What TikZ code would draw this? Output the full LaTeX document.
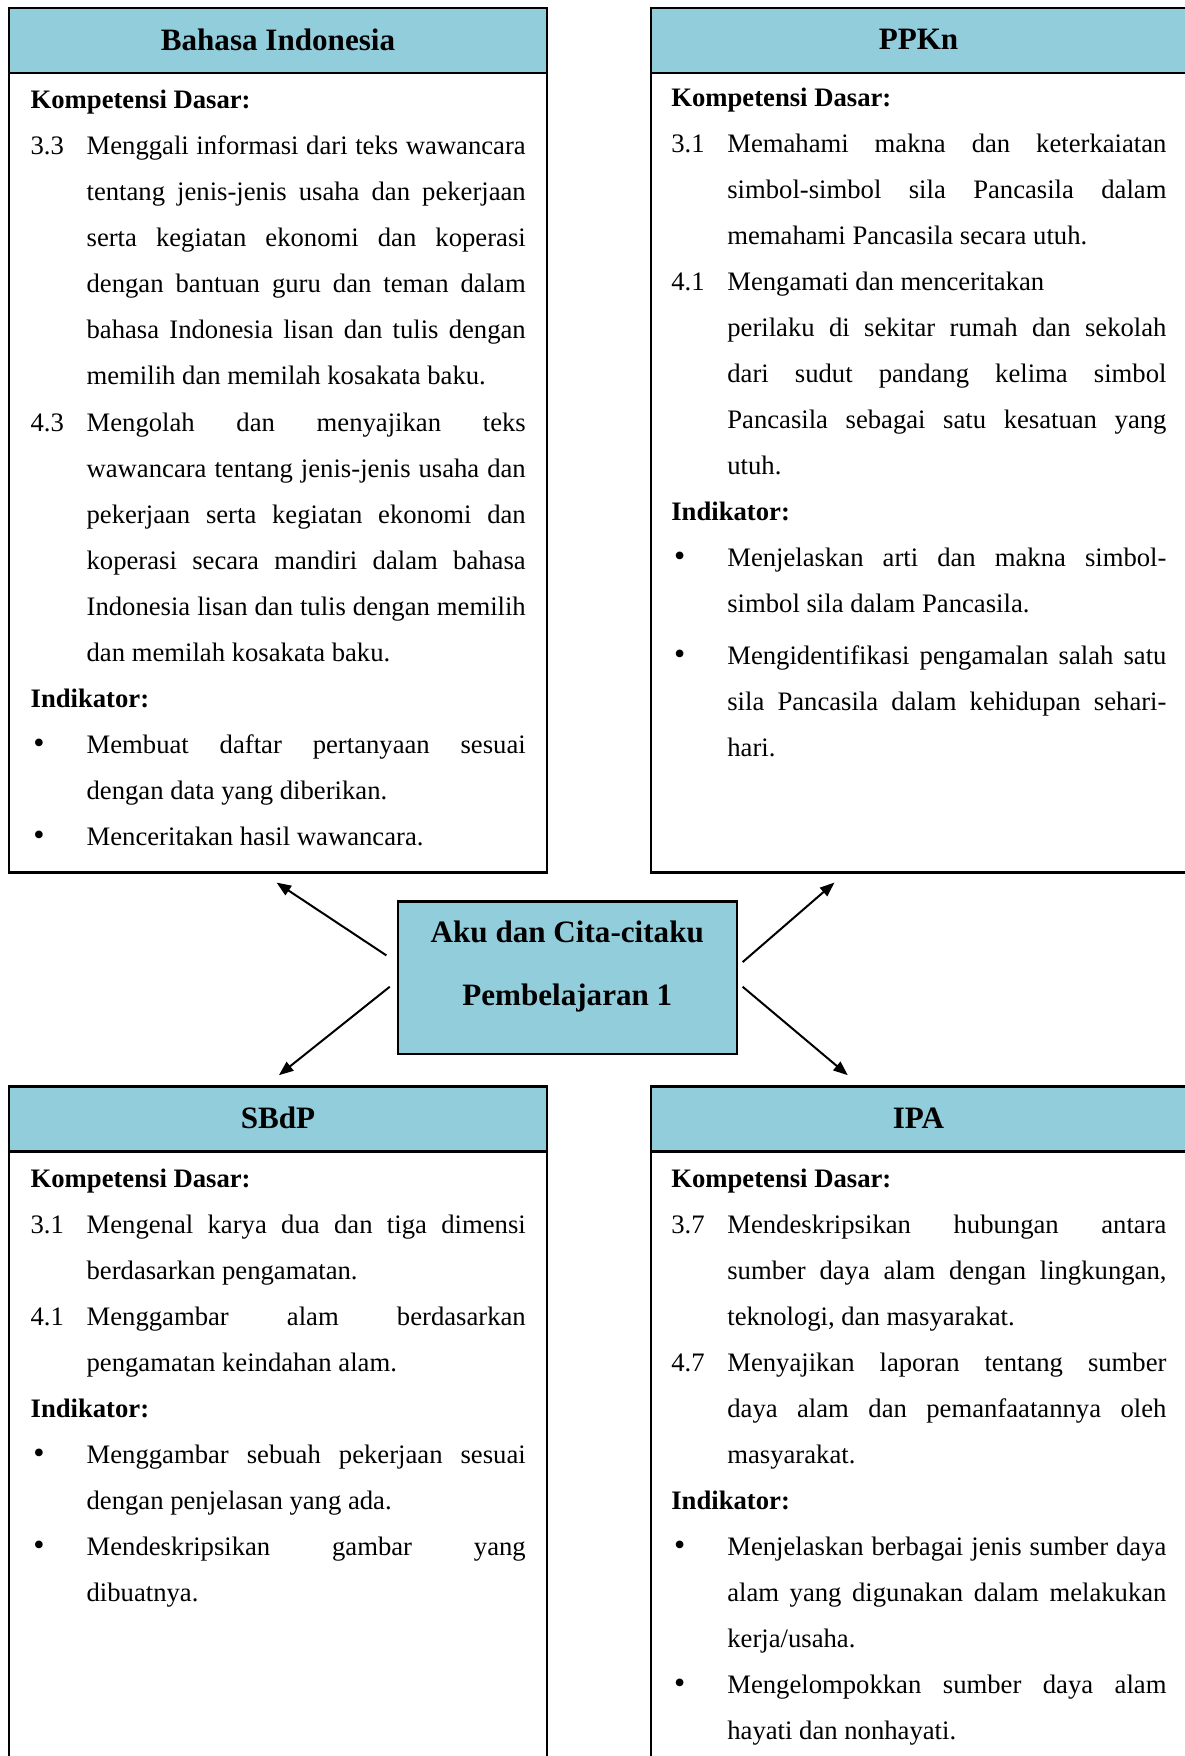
\documentclass[tikz,border=0pt]{standalone}
\usepackage{fontspec}
\setmainfont{Liberation Serif}
\usetikzlibrary{arrows.meta}
\definecolor{hdrblue}{HTML}{92CDDC}
\newlength\labw \setlength\labw{25.2pt}
\newlength\txw \setlength\txw{197.6pt}
\newcommand\Jl[2]{\hbox{\makebox[\labw][l]{#1}\makebox[\txw][s]{#2}}}
\newcommand\Ll[2]{\hbox{\makebox[\labw][l]{#1}\makebox[\txw][l]{#2}}}
\newcommand\Hd[1]{\hbox{\textbf{#1}}}
\newcommand\bul{\hspace{1.2pt}\raisebox{-0.2pt}{\scalebox{1.2}{\textbullet}}}
\newcommand\boxtext[1]{\parbox[t]{\dimexpr\labw+\txw\relax}{\fontsize{12}{20.7}\selectfont\baselineskip=20.7pt\lineskiplimit=-20pt #1}}
\tikzset{
  x=0.45pt, y=-0.45pt,
  frame/.style={draw=black, line width=1pt},
  hdr/.style={fill=hdrblue},
  title/.style={font=\fontsize{14}{16}\selectfont\bfseries, inner sep=0pt},
  body/.style={anchor=base west, inner sep=0pt},
  arr/.style={draw=black, line width=0.9pt, -{Triangle[length=6.5pt,width=5pt]}},
}
\begin{document}
\begin{tikzpicture}
\useasboundingbox (0,0) rectangle (1185,1756);
\clip (0,0) rectangle (1185,1756);
\fill[white] (0,0) rectangle (1185,1756);

% ---- boxes ----
\fill[hdr] (9,8) rectangle (547,72.8);
\draw[frame] (9,8) rectangle (547,872.5);
\draw[frame] (9,72.8) -- (547,72.8);

\fill[hdr] (650.7,8) rectangle (1187,72.8);
\draw[frame] (650.7,8) rectangle (1187,872.5);
\draw[frame] (650.7,72.8) -- (1187,72.8);

\fill[hdr] (9,1086.5) rectangle (547,1151.4);
\draw[frame] (9,1086.5) rectangle (547,1790);
\draw[frame] (9,1151.4) -- (547,1151.4);

\fill[hdr] (650.7,1086.5) rectangle (1187,1151.4);
\draw[frame] (650.7,1086.5) rectangle (1187,1790);
\draw[frame] (650.7,1151.4) -- (1187,1151.4);

% ---- titles ----
\node[title] (tBI) at (278,39.5) {Bahasa Indonesia};
\node[title] (tPP) at (918.5,39.5) {PPKn};
\node[title] (tSB) at (278,1118) {SBdP};
\node[title] (tIP) at (918.5,1118) {IPA};

% ---- centre ----
\node[frame, hdr, minimum width=152.7pt, minimum height=68.6pt, inner sep=0pt] (topic) at (567.3,977.8) {};
\node[title, anchor=base] (topic1) at (567.3,942) {Aku dan Cita-citaku};
\node[title, anchor=base] (topic2) at (567.3,1005.5) {Pembelajaran 1};

% ---- arrows ----
\coordinate (a1s) at (386.4,955.4);  \coordinate (a1e) at (276.6,882.6);
\coordinate (a2s) at (389.8,986.7);  \coordinate (a2e) at (278.9,1075.2);
\coordinate (a3s) at (742.6,962.1);  \coordinate (a3e) at (834.4,882.6);
\coordinate (a4s) at (742.6,986.7);  \coordinate (a4e) at (847.8,1075.2);
\draw[arr] (a1s) -- (a1e);
\draw[arr] (a2s) -- (a2e);
\draw[arr] (a3s) -- (a3e);
\draw[arr] (a4s) -- (a4e);

% ---- Bahasa Indonesia ----
\node[body] (bBI) at (30.2,109) {\boxtext{%
\Hd{Kompetensi Dasar:}
\Jl{3.3}{Menggali informasi dari teks wawancara}
\Jl{}{tentang jenis-jenis usaha dan pekerjaan}
\Jl{}{serta kegiatan ekonomi dan koperasi}
\Jl{}{dengan bantuan guru dan teman dalam}
\Jl{}{bahasa Indonesia lisan dan tulis dengan}
\Ll{}{memilih dan memilah kosakata baku.}
\Jl{4.3}{Mengolah dan menyajikan teks}
\Jl{}{wawancara tentang jenis-jenis usaha dan}
\Jl{}{pekerjaan serta kegiatan ekonomi dan}
\Jl{}{koperasi secara mandiri dalam bahasa}
\Jl{}{Indonesia lisan dan tulis dengan memilih}
\Ll{}{dan memilah kosakata baku.}
\Hd{Indikator:}
\Jl{\bul}{Membuat daftar pertanyaan sesuai}
\Ll{}{dengan data yang diberikan.}
\Ll{\bul}{Menceritakan hasil wawancara.}
}};

% ---- PPKn ----
\node[body] (bPP) at (670.9,106.5) {\boxtext{%
\Hd{Kompetensi Dasar:}
\Jl{3.1}{Memahami makna dan keterkaiatan}
\Jl{}{simbol-simbol sila Pancasila dalam}
\Ll{}{memahami Pancasila secara utuh.}
\Ll{4.1}{Mengamati dan menceritakan}
\Jl{}{perilaku di sekitar rumah dan sekolah}
\Jl{}{dari sudut pandang kelima simbol}
\Jl{}{Pancasila sebagai satu kesatuan yang}
\Ll{}{utuh.}
\Hd{Indikator:}
\Jl{\bul}{Menjelaskan arti dan makna simbol-}
\Ll{}{simbol sila dalam Pancasila.}
\vskip2.5pt
\Jl{\bul}{Mengidentifikasi pengamalan salah satu}
\Jl{}{sila Pancasila dalam kehidupan sehari-}
\Ll{}{hari.}
}};

% ---- SBdP ----
\node[body] (bSB) at (30.2,1187.3) {\boxtext{%
\Hd{Kompetensi Dasar:}
\Jl{3.1}{Mengenal karya dua dan tiga dimensi}
\Ll{}{berdasarkan pengamatan.}
\Jl{4.1}{Menggambar alam berdasarkan}
\Ll{}{pengamatan keindahan alam.}
\Hd{Indikator:}
\Jl{\bul}{Menggambar sebuah pekerjaan sesuai}
\Ll{}{dengan penjelasan yang ada.}
\Jl{\bul}{Mendeskripsikan gambar yang}
\Ll{}{dibuatnya.}
}};

% ---- IPA ----
\node[body] (bIP) at (670.9,1187.3) {\boxtext{%
\Hd{Kompetensi Dasar:}
\Jl{3.7}{Mendeskripsikan hubungan antara}
\Jl{}{sumber daya alam dengan lingkungan,}
\Ll{}{teknologi, dan masyarakat.}
\Jl{4.7}{Menyajikan laporan tentang sumber}
\Jl{}{daya alam dan pemanfaatannya oleh}
\Ll{}{masyarakat.}
\Hd{Indikator:}
\Jl{\bul}{Menjelaskan berbagai jenis sumber daya}
\Jl{}{alam yang digunakan dalam melakukan}
\Ll{}{kerja/usaha.}
\Jl{\bul}{Mengelompokkan sumber daya alam}
\Ll{}{hayati dan nonhayati.}
}};
\end{tikzpicture}
\end{document}
